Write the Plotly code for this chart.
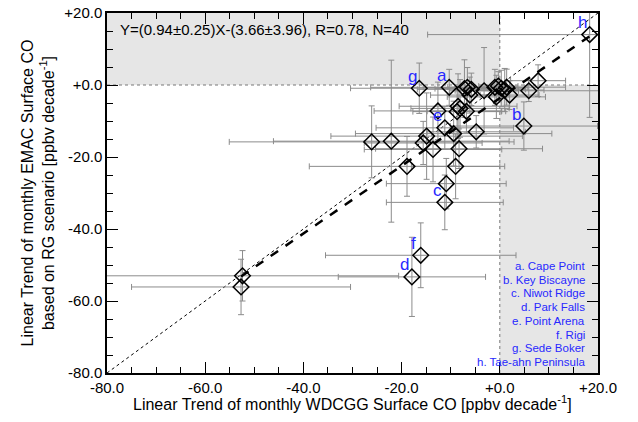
import plotly.graph_objects as go

# WDCGG observed trends (x) vs EMAC RG-scenario trends (y), ppbv/decade
obs_trend = [18.3, -16.4, -10.3, -6.6, -5.8, -6.1, -3.2, -1.0, -0.7, 0.3,
             1.0, 2.0, 5.9, 7.8, 4.9, -12.6, -8.5, -8.1, -8.7, -6.8,
             -11.2, -9.4, -4.8, -26.1, -22.1, -14.9, -15.6, -13.6, -8.3, -18.9,
             -9.0, -10.9, -11.2, -16.1, -17.9, -52.4, -52.7, -0.3, -7.2, 1.4]
obs_err = [33.0, 14.0, 16.0, 9.0, 11.0, 8.0, 7.0, 6.0, 10.0, 5.0,
           8.0, 6.0, 15.0, 5.6, 15.0, 13.0, 12.0, 10.0, 9.0, 8.0,
           14.0, 20.0, 10.0, 29.0, 24.0, 19.5, 12.0, 14.0, 17.0, 19.9,
           9.0, 12.2, 11.9, 19.4, 15.0, 31.8, 22.3, 4.0, 6.0, 12.0]
mod_trend = [14.0, -0.9, -0.65, -0.65, -1.2, -2.8, -1.6, -0.65, -3.3, -0.9,
             -1.4, -2.8, -1.6, 1.2, -11.4, -7.2, -5.9, -6.5, -7.4, -7.3,
             -11.9, -13.5, -13.0, -15.8, -15.6, -14.2, -16.1, -17.9, -17.7, -22.6,
             -22.6, -27.4, -32.6, -47.3, -53.3, -53.0, -56.1, -0.3, -1.0, -0.6]
mod_err = [23.0, 7.0, 5.0, 5.5, 4.5, 5.0, 12.0, 5.0, 6.0, 5.0,
           6.0, 4.0, 3.0, 4.4, 6.7, 8.0, 9.0, 8.0, 7.0, 6.0,
           6.0, 9.0, 4.5, 10.0, 22.5, 12.0, 6.0, 9.0, 5.5, 8.3,
           9.0, 7.0, 7.6, 9.0, 11.0, 7.0, 7.7, 4.0, 8.0, 5.0]

# station letters and the index of the point each one tags
site_letters = ["a", "b", "c", "d", "e", "f", "g", "h"]
site_index = [2, 14, 32, 34, 20, 33, 1, 0]
site_names = ["a. Cape Point", "b. Key Biscayne", "c. Niwot Ridge", "d. Park Falls",
              "e. Point Arena", "f. Rigi", "g. Sede Boker", "h. Tae-ahn Peninsula"]

# regression result
slope, slope_err = 0.94, 0.25
intercept, intercept_err = -3.66, 3.96
r_value, n_points = 0.78, 40

tick_vals = [-80, -60, -40, -20, 0, 20]
tick_text = ["-80.0", "-60.0", "-40.0", "-20.0", "+0.0", "+20.0"]

FONT = "Liberation Sans, Arial, sans-serif"
BLUE = "rgb(40,40,255)"
SHADE = "rgb(230,230,230)"
XR = [-80, 20]
YR = [-80, 20]

fig = go.Figure()

# 1:1 reference line
fig.add_trace(go.Scatter(x=XR, y=YR, mode="lines",
                         line=dict(color="black", width=1, dash="dot"),
                         hoverinfo="skip", showlegend=False))

# data with error bars
fig.add_trace(go.Scatter(
    x=obs_trend, y=mod_trend, mode="markers",
    marker=dict(symbol="diamond-open", size=12, color="black",
                line=dict(color="black", width=1.5)),
    error_x=dict(type="data", array=obs_err, color="rgb(140,140,140)",
                 thickness=1, width=3),
    error_y=dict(type="data", array=mod_err, color="rgb(140,140,140)",
                 thickness=1, width=3),
    showlegend=False))

# fitted line over the data range
x_lo, x_hi = min(obs_trend), max(obs_trend)
fig.add_trace(go.Scatter(x=[x_lo, x_hi],
                         y=[slope * x_lo + intercept, slope * x_hi + intercept],
                         mode="lines",
                         line=dict(color="black", width=2.5, dash="dash"),
                         hoverinfo="skip", showlegend=False))

shapes = [
    dict(type="rect", xref="x", yref="y", x0=-80, x1=0, y0=0, y1=20,
         fillcolor=SHADE, line=dict(width=0), layer="below"),
    dict(type="rect", xref="x", yref="y", x0=0, x1=20, y0=-80, y1=0,
         fillcolor=SHADE, line=dict(width=0), layer="below"),
    dict(type="line", xref="x", yref="y", x0=0, x1=0, y0=-80, y1=20,
         line=dict(color="rgb(120,120,120)", width=1, dash="dot"), layer="below"),
    dict(type="line", xref="x", yref="y", x0=-80, x1=20, y0=0, y1=0,
         line=dict(color="rgb(120,120,120)", width=1, dash="dot"), layer="below"),
]

annotations = []
for letter, idx in zip(site_letters, site_index):
    annotations.append(dict(x=obs_trend[idx], y=mod_trend[idx], xref="x", yref="y",
                            text=letter, showarrow=False, xshift=-7, yshift=12,
                            font=dict(family=FONT, size=17, color=BLUE)))

annotations.append(dict(
    x=0.022, y=0.953, xref="paper", yref="paper", xanchor="left", yanchor="middle",
    text=f"Y=({slope:.2f}±{slope_err:.2f})X-({-intercept:.2f}±{intercept_err:.2f}), "
         f"R={r_value:.2f}, N={n_points}",
    showarrow=False, font=dict(family=FONT, size=15, color="black")))

for i, name in enumerate(site_names):
    annotations.append(dict(
        x=0.978, y=(373 - (266 + i * 13.7)) / 360, xref="paper", yref="paper",
        xanchor="right", yanchor="middle", text=name, showarrow=False,
        font=dict(family=FONT, size=11.5, color=BLUE)))

# x-axis title placed just below the tick labels
annotations.append(dict(
    x=0.5, y=-0.083, xref="paper", yref="paper", xanchor="center", yanchor="middle",
    text="Linear Trend of monthly WDCGG Surface CO [ppbv decade<sup>-1</sup>]",
    showarrow=False, font=dict(family=FONT, size=16, color="black")))

axis_common = dict(
    tickvals=tick_vals, ticktext=tick_text, ticks="inside", ticklen=11,
    tickwidth=1.2, tickcolor="black", showline=True, linecolor="black",
    linewidth=1.5, mirror="allticks", showgrid=False, zeroline=False,
    automargin=False,
    tickfont=dict(family=FONT, size=15, color="black"),
    minor=dict(ticks="inside", dtick=5, ticklen=6, tickwidth=1.2,
               tickcolor="black", showgrid=False),
)

fig.update_layout(
    width=638, height=422,
    margin=dict(l=107, r=40, t=13, b=49),
    paper_bgcolor="white", plot_bgcolor="white",
    shapes=shapes, annotations=annotations,
    xaxis=dict(range=XR, **axis_common),
    yaxis=dict(range=YR, **axis_common,
               title=dict(text="Linear Trend of monthly EMAC Surface CO<br>based on RG scenario [ppbv decade<sup>-1</sup>]",
                          font=dict(family=FONT, size=16, color="black"), standoff=6)),
)

fig.write_html("out.html")
